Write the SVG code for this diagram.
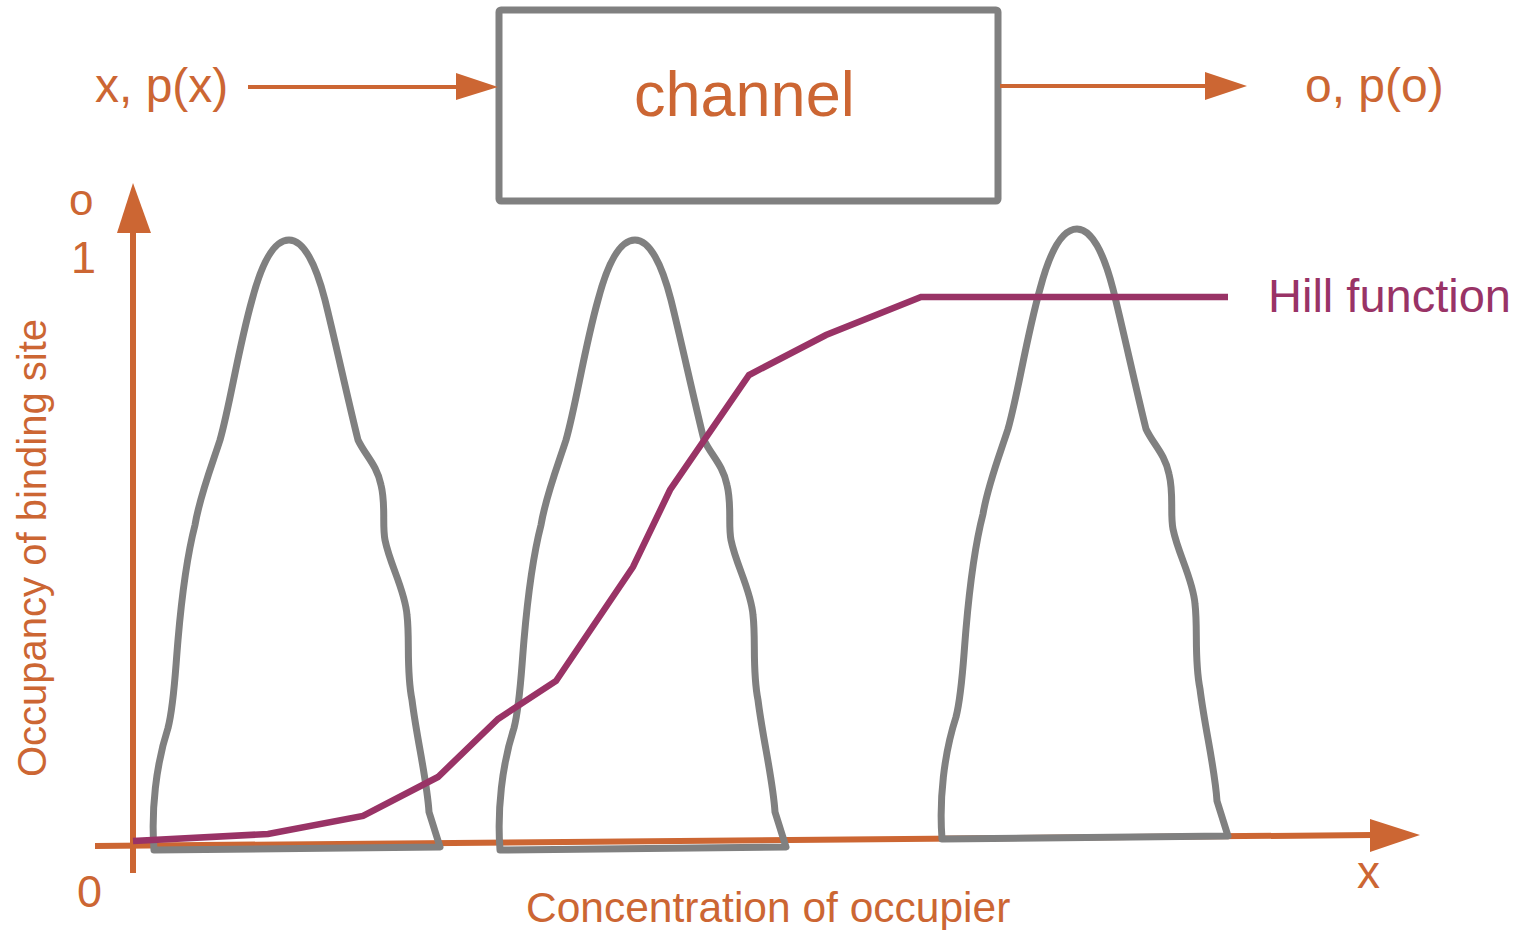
<svg xmlns="http://www.w3.org/2000/svg" width="1527" height="930" viewBox="0 0 1527 930">
<style>
text{font-family:"Liberation Sans",Arial,sans-serif;}
.or{fill:#CC6633;}
.pu{fill:#993366;}
.axis{stroke:#CC6633;stroke-width:6;fill:none;}
.conn{stroke:#CC6633;stroke-width:4;fill:none;}
.head{fill:#CC6633;}
.dist{stroke:#808080;stroke-width:7;fill:none;stroke-linejoin:round;stroke-linecap:round;}
.hill{stroke:#993366;stroke-width:6.5;fill:none;stroke-linejoin:miter;}
</style>
<defs>
<path id="bell" d="M154,850 C151,810 156,765 168,728 C174,705 175,675 178,640 C181,605 186,560 195,525 C200,495 212,465 220,440 C230,405 238,350 252,300 C262,262 274,240 289,240 C304,240 316,265 325,300 C335,340 348,400 358,440 C365,455 377,465 381,485 C386,505 382,525 385,540 C390,565 405,590 407,615 C410,640 406,670 412,700 C417,740 427,780 429,812 L440,847 L154,850 Z"/>
</defs>
<g id="axes">
<line class="axis" x1="133" y1="873" x2="133" y2="230"/>
<polygon class="head" points="117,233 133,183 151,233"/>
<line class="axis" x1="95" y1="846" x2="1372" y2="835"/>
<polygon class="head" points="1370,819 1420,835 1370,852"/>
</g>
<g id="distributions">
<use href="#bell" class="dist"/>
<use href="#bell" class="dist" transform="translate(346,0)"/>
<use href="#bell" class="dist" transform="translate(788,-11)"/>
</g>
<g id="hill-curve">
<polyline class="hill" points="133,841 268,834 363,816 438,777 498,719 556,681 633,567 670,490 749,375 826,335 921,297 1228,297"/>
</g>
<g id="channel">
<rect x="499" y="10" width="499" height="191" rx="2" fill="#FFFFFF" stroke="#808080" stroke-width="7"/>
<text class="or" x="634" y="116" font-size="63">channel</text>
</g>
<g id="connectors">
<line class="conn" x1="248" y1="87" x2="460" y2="87"/>
<polygon class="head" points="456,73 498,87 456,100"/>
<line class="conn" x1="1000" y1="86" x2="1208" y2="86"/>
<polygon class="head" points="1205,72 1247,86 1205,100"/>
</g>
<g id="input"><text class="or" x="95" y="102" font-size="48">x, p(x)</text></g>
<g id="output"><text class="or" x="1305" y="102" font-size="48">o, p(o)</text></g>
<g id="labels">
<text class="pu" x="1268" y="312" font-size="47">Hill function</text>
<text class="or" x="69" y="215" font-size="44">o</text>
<text class="or" x="71" y="273" font-size="45">1</text>
<text class="or" x="77" y="907" font-size="45">0</text>
<text class="or" x="1357" y="888" font-size="46">x</text>
<text class="or" x="526" y="922" font-size="42.5">Concentration of occupier</text>
<text class="or" font-size="40" transform="translate(46,777) rotate(-90)">Occupancy of binding site</text>
</g>
</svg>
